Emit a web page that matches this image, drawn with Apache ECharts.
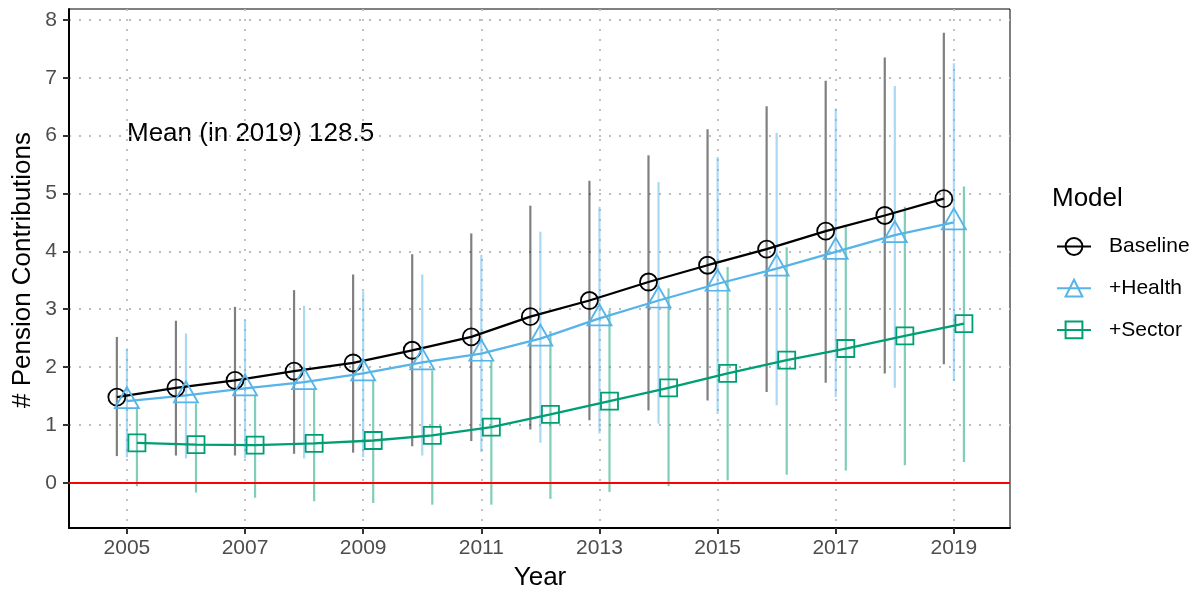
<!DOCTYPE html>
<html>
<head>
<meta charset="utf-8">
<script src="https://cdn.jsdelivr.net/npm/echarts@6/dist/echarts.min.js"></script>
<style>
  html, body { margin: 0; padding: 0; background: #ffffff; }
  #chart { width: 1202px; height: 592px; }
</style>
</head>
<body>
<div id="chart"></div>
<script>
// Survey years and axis tick values
const years = [2005, 2006, 2007, 2008, 2009, 2010, 2011, 2012, 2013, 2014, 2015, 2016, 2017, 2018, 2019];
const yearTicks = [2005, 2007, 2009, 2011, 2013, 2015, 2017, 2019];
const countTicks = [0, 1, 2, 3, 4, 5, 6, 7, 8];

// Baseline model: estimate and interval bounds
const baseline     = [1.48, 1.64, 1.77, 1.93, 2.07, 2.29, 2.52, 2.87, 3.15, 3.47, 3.76, 4.04, 4.35, 4.62, 4.91];
const baselineLow  = [0.46, 0.47, 0.47, 0.50, 0.52, 0.63, 0.72, 0.92, 1.08, 1.25, 1.42, 1.57, 1.73, 1.89, 2.05];
const baselineHigh = [2.52, 2.80, 3.04, 3.33, 3.60, 3.95, 4.31, 4.79, 5.22, 5.66, 6.11, 6.51, 6.95, 7.35, 7.78];

// +Health model
const health     = [1.41, 1.51, 1.63, 1.74, 1.89, 2.08, 2.23, 2.49, 2.84, 3.15, 3.44, 3.70, 3.99, 4.28, 4.50];
const healthLow  = [0.44, 0.42, 0.42, 0.42, 0.44, 0.47, 0.53, 0.69, 0.85, 1.02, 1.19, 1.34, 1.48, 1.64, 1.76];
const healthHigh = [2.32, 2.58, 2.81, 3.06, 3.31, 3.60, 3.94, 4.34, 4.77, 5.20, 5.63, 6.05, 6.47, 6.86, 7.25];

// +Sector model
const sector     = [0.69, 0.66, 0.65, 0.68, 0.73, 0.82, 0.96, 1.18, 1.41, 1.64, 1.89, 2.12, 2.32, 2.54, 2.75];
const sectorLow  = [-0.06, -0.17, -0.26, -0.32, -0.35, -0.38, -0.38, -0.28, -0.16, -0.06, 0.04, 0.14, 0.21, 0.30, 0.36];
const sectorHigh = [1.31, 1.37, 1.51, 1.63, 1.77, 1.94, 2.12, 2.62, 2.98, 3.36, 3.73, 4.07, 4.42, 4.77, 5.12];

const annotation = 'Mean (in 2019) 128.5';

// Horizontal dodge so the three models sit side by side within a year
const DODGE = 0.17;

const FONT = '"Liberation Sans", Arial, Helvetica, sans-serif';
const models = [
  { name: 'Baseline', est: baseline, lo: baselineLow, hi: baselineHigh, shift: -DODGE,
    color: '#000000', bar: 'rgba(0,0,0,0.5)', symbol: 'circle', size: 17, offset: [0, 0] },
  { name: '+Health', est: health, lo: healthLow, hi: healthHigh, shift: 0,
    color: '#56B4E9', bar: 'rgba(86,180,233,0.5)', symbol: 'triangle', size: [24, 21], offset: [0, -3.5] },
  { name: '+Sector', est: sector, lo: sectorLow, hi: sectorHigh, shift: DODGE,
    color: '#009E73', bar: 'rgba(0,158,115,0.5)', symbol: 'rect', size: 17, offset: [0, 0] }
];

const dotted = { color: '#bcbcbc', width: 1.8, type: [2, 8] };

const series = [];

// Interval bars, drawn beneath the lines and markers
models.forEach(m => {
  series.push({
    name: m.name + ' interval',
    type: 'custom',
    z: 1,
    silent: true,
    encode: { x: 0, y: [1, 2] },
    data: years.map((yr, i) => [yr + m.shift, m.lo[i], m.hi[i]]),
    renderItem: (params, api) => {
      const top = api.coord([api.value(0), api.value(2)]);
      const bot = api.coord([api.value(0), api.value(1)]);
      return {
        type: 'line',
        shape: { x1: top[0], y1: top[1], x2: bot[0], y2: bot[1] },
        style: { stroke: m.bar, lineWidth: 2.2 }
      };
    }
  });
});

// Estimates: line plus hollow markers
models.forEach((m, k) => {
  const s = {
    name: m.name,
    type: 'line',
    z: 3,
    data: years.map((yr, i) => [yr + m.shift, m.est[i]]),
    symbol: m.symbol,
    symbolSize: m.size,
    symbolOffset: m.offset,
    showAllSymbol: true,
    lineStyle: { color: m.color, width: 2.3 },
    itemStyle: { color: 'rgba(255,255,255,0)', borderColor: m.color, borderWidth: 1.8 },
    emphasis: { disabled: true },
    animation: false
  };
  if (k === 0) {
    // Zero reference line
    s.markLine = {
      silent: true,
      symbol: 'none',
      label: { show: false },
      lineStyle: { color: '#ff0000', width: 2, type: 'solid' },
      data: [{ yAxis: 0 }],
      animation: false
    };
  }
  series.push(s);
});

const chart = echarts.init(document.getElementById('chart'), null, { renderer: 'canvas' });

chart.setOption({
  animation: false,
  backgroundColor: '#ffffff',
  textStyle: { fontFamily: FONT },
  grid: {
    left: 69, right: 192, top: 9, bottom: 64,
    show: true, borderColor: '#000000', borderWidth: 1, backgroundColor: 'transparent'
  },
  xAxis: {
    type: 'value',
    min: 2004.02,
    max: 2019.95,
    axisLine: { show: true, onZero: false, lineStyle: { color: '#000000', width: 2 } },
    axisTick: { show: true, customValues: yearTicks, length: 6, lineStyle: { color: '#333333', width: 2 } },
    axisLabel: { customValues: yearTicks, margin: 10, fontSize: 21, color: '#4d4d4d', fontFamily: FONT,
                 formatter: v => String(v) },
    splitLine: { show: true, lineStyle: dotted }
  },
  yAxis: {
    type: 'value',
    min: -0.783,
    max: 8.19,
    axisLine: { show: true, onZero: false, lineStyle: { color: '#000000', width: 2 } },
    axisTick: { show: true, customValues: countTicks, length: 6, lineStyle: { color: '#333333', width: 2 } },
    axisLabel: { customValues: countTicks, margin: 12, fontSize: 21, color: '#4d4d4d', fontFamily: FONT },
    splitLine: { show: true, lineStyle: dotted }
  },
  legend: {
    data: models.map(m => m.name),
    orient: 'vertical',
    left: 1056,
    top: 236,
    itemWidth: 34,
    itemHeight: 21,
    itemGap: 20.7,
    padding: 0,
    selectedMode: false,
    textStyle: { fontSize: 21, lineHeight: 21, color: '#000000', fontFamily: FONT, padding: [0, 0, 0, 13] }
  },
  graphic: [
    {
      type: 'text', left: 127, top: 121,
      style: { text: annotation, font: '26px ' + FONT, fill: '#000000' }
    },
    {
      type: 'text', left: 1052, top: 186,
      style: { text: 'Model', font: '26px ' + FONT, fill: '#000000' }
    },
    {
      type: 'text', x: 540, y: 578,
      style: { text: 'Year', font: '26px ' + FONT, fill: '#000000', align: 'center', verticalAlign: 'middle' }
    },
    {
      type: 'text', x: 23, y: 270, rotation: Math.PI / 2,
      style: { text: '# Pension Contributions', font: '26px ' + FONT, fill: '#000000', align: 'center', verticalAlign: 'middle' }
    }
  ],
  series: series
});
</script>
</body>
</html>
